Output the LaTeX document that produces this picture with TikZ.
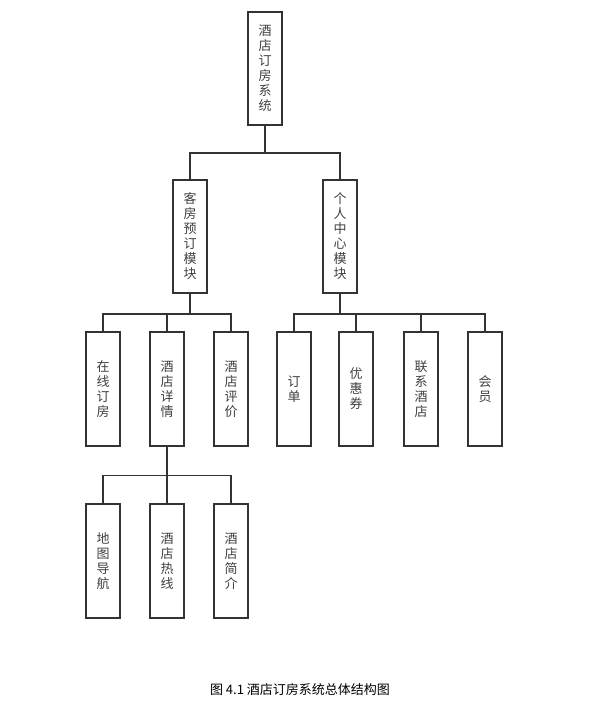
\documentclass[tikz,border=0pt]{standalone}
\usepackage{fontspec}
\setmainfont{Noto Sans CJK SC}
\begin{document}
\begin{tikzpicture}[x=1pt,y=-1pt,
  modbox/.style={draw=black!80,line width=1.7pt,fill=white,minimum width=34pt,minimum height=113.5pt,inner sep=0pt,align=center,text=black!75,font=\fontsize{13}{15}\selectfont},
  link/.style={draw=black!80,line width=1.7pt}]
\useasboundingbox (0,0) rectangle (614,711);
% top
\node[modbox] (sys) at (265,68.5) {酒\\店\\订\\房\\系\\统};
% modules
\node[modbox] (book) at (190,236.5) {客\\房\\预\\订\\模\\块};
\node[modbox] (center) at (340,236.5) {个\\人\\中\\心\\模\\块};
% booking subtree
\node[modbox] (online) at (103,389) {在\\线\\订\\房};
\node[modbox] (detail) at (167,389) {酒\\店\\详\\情};
\node[modbox] (review) at (231,389) {酒\\店\\评\\价};
% personal subtree
\node[modbox] (order) at (294,389) {订\\单};
\node[modbox] (coupon) at (356,389) {优\\惠\\券};
\node[modbox] (contact) at (421,389) {联\\系\\酒\\店};
\node[modbox] (member) at (485,389) {会\\员};
% detail subtree
\node[modbox] (map) at (103,561) {地\\图\\导\\航};
\node[modbox] (hotline) at (167,561) {酒\\店\\热\\线};
\node[modbox] (intro) at (231,561) {酒\\店\\简\\介};
% connectors
\draw[link] (sys.south) -- ++(0,27) -| (book.north);
\draw[link] (sys.south) -- ++(0,27) -| (center.north);
\draw[link] (book.south) -- ++(0,20) -| (online.north);
\draw[link] (book.south) -- ++(0,20) -| (detail.north);
\draw[link] (book.south) -- ++(0,20) -| (review.north);
\draw[link] (center.south) -- ++(0,20) -| (order.north);
\draw[link] (center.south) -- ++(0,20) -| (coupon.north);
\draw[link] (center.south) -- ++(0,20) -| (contact.north);
\draw[link] (center.south) -- ++(0,20) -| (member.north);
\draw[link] (detail.south) -- ++(0,29) -| (map.north);
\draw[link] (detail.south) -- ++(0,29) -| (hotline.north);
\draw[link] (detail.south) -- ++(0,29) -| (intro.north);
% caption
\node[font=\fontsize{13}{15}\selectfont] (cap) at (300,690) {图 4.1 酒店订房系统总体结构图};
\end{tikzpicture}
\end{document}
